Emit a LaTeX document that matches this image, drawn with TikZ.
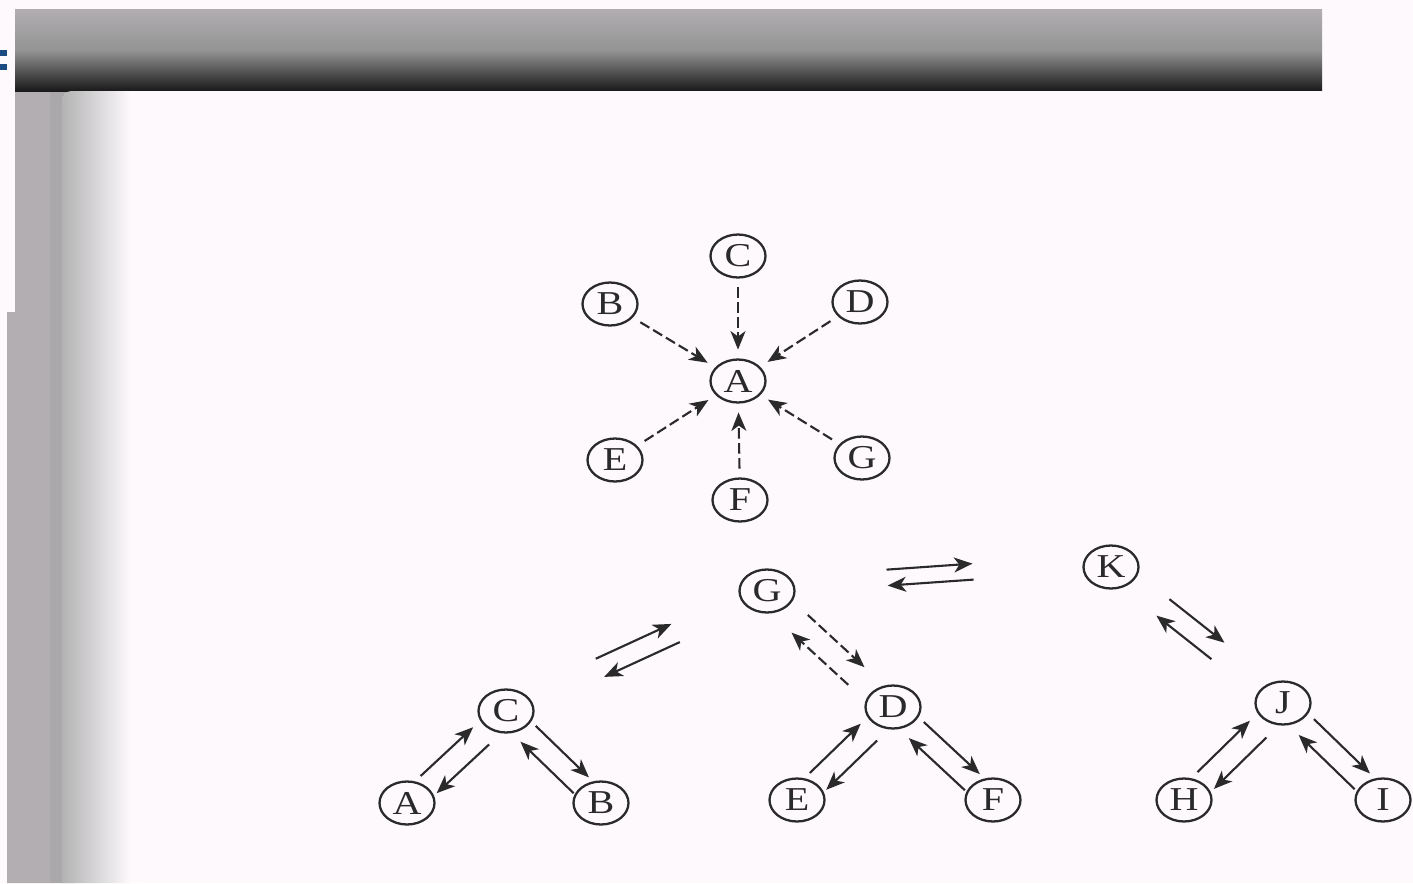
\documentclass[tikz,border=0pt]{standalone}
\usepackage{fontspec}
\newfontfamily\scanfont[FakeStretch=1.2]{Liberation Serif}
\usetikzlibrary{arrows.meta,calc,shapes.geometric}
\definecolor{ink}{HTML}{2A2A2A}
\definecolor{paper}{HTML}{FDF9FD}
\definecolor{frame}{HTML}{B2AEB2}
\definecolor{navy}{HTML}{1C4A82}

\begin{document}
\begin{tikzpicture}[x=0.02cm,y=-0.02cm,
  vertex/.style={draw=ink,line width=1.3pt,ellipse,minimum width=1.1cm,minimum height=0.86cm,inner sep=0pt,font=\scanfont\fontsize{19}{19}\selectfont,text=ink},
  arr/.style={draw=ink,line width=1.2pt,-{Stealth[length=10.5pt,width=8.5pt,inset=3pt]}},
  broken/.style={dash pattern=on 6pt off 2.5pt},
  whole/.style={solid}]

% scanned page
\useasboundingbox (0,0) rectangle (1413,883);
\fill[paper] (0,0) rectangle (1413,883);
\fill[frame] (15,9) -- (75,9) -- (75,883) -- (7,883) -- (7,312) -- (15,312) -- cycle;
\fill[black!38,opacity=0.35] (50,91) rectangle (75,883);
\fill[navy] (0,50) rectangle (7,56);
\fill[navy] (0,64) rectangle (7,70);
\shade[top color=frame,bottom color=black!90,middle color=black!42] (15,9) rectangle (1322,91);
\fill[paper] (62,883) [rounded corners=6pt] -- (62,91) [sharp corners] -- (1322,91) -- (1322,120) -- (140,120) -- (140,883) -- cycle;
\shade[left color=black!30,right color=paper] (62,883) [rounded corners=6pt] -- (62,91) [sharp corners] -- (130,91) -- (130,883) -- cycle;

% star
\foreach \n/\x/\y in {A/738/381, B/610/304, C/738/256, D/860/302, E/615/460, F/740/500, G/862/458}
    \node[vertex] (s\n) at (\x,\y) {\n};
\foreach \n in {B,C,D,E,F,G}
    \draw[arr,broken,shorten <=5pt,shorten >=5pt] (s\n) -- (sA);

% tree
\foreach \n/\x/\y in {G/767/591, K/1111/567, C/506/711, D/893/707, J/1283/703,
                      A/407/803, B/601/803, E/797/800, F/993/800, H/1184/800, I/1383/800}
    \node[vertex] (t\n) at (\x,\y) {\n};

\foreach \a/\b/\s/\e/\p/\q/\st in {G/K/0.35/0.6/0.26cm/-0.06cm/whole,
                                   G/C/0.35/0.64/0.2cm/-0.2cm/whole,
                                   G/D/0.27/0.72/0.2cm/-0.28cm/broken,
                                   K/J/0.3/0.62/0.22cm/-0.2cm/whole,
                                   C/A/0.26/0.79/0.26cm/-0.21cm/whole,
                                   C/B/0.24/0.8/0.2cm/-0.24cm/whole,
                                   D/E/0.26/0.79/0.26cm/-0.21cm/whole,
                                   D/F/0.24/0.8/0.2cm/-0.24cm/whole,
                                   J/H/0.26/0.79/0.26cm/-0.21cm/whole,
                                   J/I/0.24/0.8/0.2cm/-0.24cm/whole}
{
    \draw[arr,\st] ($(t\a)!\s!(t\b)!\p!90:(t\b)$) -- ($(t\a)!\e!(t\b)!\p!90:(t\b)$);
    \draw[arr,\st] ($(t\a)!\e!(t\b)!\q!90:(t\b)$) -- ($(t\a)!\s!(t\b)!\q!90:(t\b)$);
}

\end{tikzpicture}
\end{document}
